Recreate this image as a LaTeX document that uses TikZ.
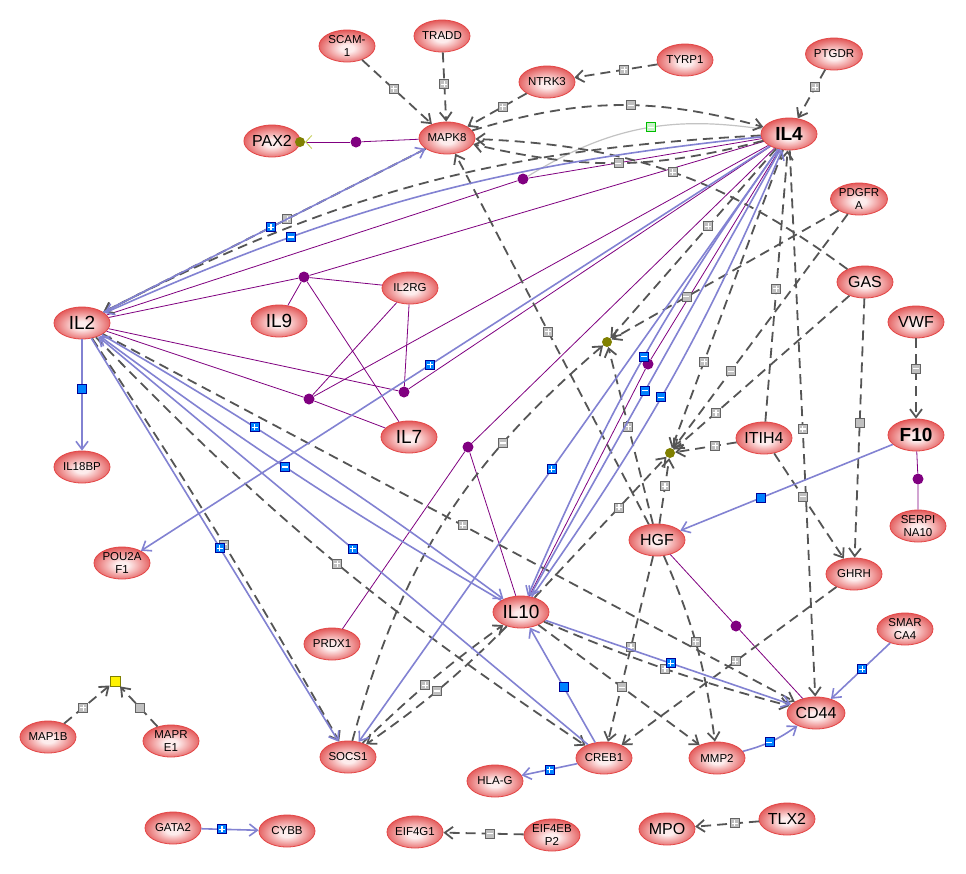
\documentclass[tikz,border=0pt]{standalone}
\usepackage{fontspec}
\setmainfont{Liberation Sans}
\usepackage{xcolor}
\definecolor{genein}{RGB}{253,236,236}
\definecolor{genemid}{RGB}{242,165,165}
\definecolor{geneout}{RGB}{226,88,88}
\definecolor{geneline}{RGB}{228,70,70}
\definecolor{regline}{RGB}{85,85,85}
\definecolor{expline}{RGB}{130,130,210}
\definecolor{bindline}{RGB}{128,0,128}
\definecolor{boxgray}{RGB}{192,192,192}
\definecolor{boxgrayline}{RGB}{100,100,100}
\definecolor{boxblue}{RGB}{0,130,255}
\definecolor{boxblueline}{RGB}{0,0,150}
\definecolor{targetdot}{RGB}{128,128,0}
\definecolor{paxarrow}{RGB}{190,200,70}
\definecolor{curvegray}{RGB}{195,195,195}
\definecolor{greenfill}{RGB}{200,240,200}
\definecolor{greenline}{RGB}{0,190,0}
\usepackage{tikz}
\usetikzlibrary{shapes.geometric}
\usetikzlibrary{arrows.meta}
\pgfdeclareradialshading{genefill}{\pgfpoint{0bp}{-4bp}}{color(0bp)=(genein); color(6bp)=(genein); color(16bp)=(genemid); color(27bp)=(geneout); color(50bp)=(geneout)}

\begin{document}
\begin{tikzpicture}[x=1pt,y=-1pt,
gene/.style={ellipse,draw=geneline,line width=0.8pt,shading=genefill,minimum width=56pt,minimum height=32pt,inner sep=0pt,align=center,font=\fontsize{11.5}{12.5}\selectfont},
big/.style={gene,font=\fontsize{16}{16}\selectfont},
huge/.style={gene,font=\fontsize{19}{19}\selectfont},
hugeb/.style={gene,font=\fontsize{19}{19}\selectfont\bfseries},
reg/.style={draw=regline,line width=1.8pt,dash pattern=on 10pt off 6pt,-{Straight Barb[length=8pt,width=12pt]}},
exp/.style={draw=expline,line width=1.6pt,-{Straight Barb[length=8pt,width=12pt]}},
bind/.style={draw=bindline,line width=0.8pt},
bdot/.style={circle,fill=bindline,inner sep=0pt,minimum size=11pt},
tdot/.style={circle,fill=targetdot,inner sep=0pt,minimum size=10pt},
ybox/.style={rectangle,fill=yellow,draw=targetdot,line width=0.8pt,minimum size=10pt,inner sep=0pt},
box/.style={rectangle,solid,line width=0.9pt,minimum size=9pt,inner sep=0pt},
plus/.style={path picture={\draw[white,solid,line width=1.1pt,-] ([xshift=-3pt]path picture bounding box.center)--([xshift=3pt]path picture bounding box.center) ([yshift=-3pt]path picture bounding box.center)--([yshift=3pt]path picture bounding box.center);}},
minus/.style={path picture={\draw[white,solid,line width=1.1pt,-] ([xshift=-3pt]path picture bounding box.center)--([xshift=3pt]path picture bounding box.center);}},
gb/.style={box,fill=boxgray,draw=boxgrayline},
gp/.style={gb,plus},
gm/.style={gb,minus},
bb/.style={box,fill=boxblue,draw=boxblueline},
bp/.style={bb,plus},
bm/.style={bb,minus}]
\path[use as bounding box,fill=white] (0,0) rectangle (966,873);

\node[gene] (scam) at (347,46) {SCAM-\\1};
\node[gene] (tradd) at (442,36) {TRADD};
\node[gene] (ntrk3) at (547,82) {NTRK3};
\node[gene] (tyrp1) at (685,60) {TYRP1};
\node[gene] (ptgdr) at (834,54) {PTGDR};
\node[big] (pax2) at (272,141) {PAX2};
\node[gene] (mapk8) at (447,138) {MAPK8};
\node[hugeb] (il4) at (789,134) {IL4};
\node[gene] (pdgfra) at (859,199) {PDGFR\\A};
\node[big] (gas) at (865,282) {GAS};
\node[big] (vwf) at (916,322) {VWF};
\node[huge] (il2) at (82,323) {IL2};
\node[huge] (il9) at (279,321) {IL9};
\node[gene] (il2rg) at (410,288) {IL2RG};
\node[huge] (il7) at (409,437) {IL7};
\node[big] (itih4) at (764,438) {ITIH4};
\node[hugeb] (f10) at (916,435) {F10};
\node[gene] (il18bp) at (82,467) {IL18BP};
\node[gene] (serpina10) at (918,526) {SERPI\\NA10};
\node[big] (hgf) at (657,540) {HGF};
\node[gene] (pou2af1) at (122,563) {POU2A\\F1};
\node[gene] (ghrh) at (854,574) {GHRH};
\node[huge] (il10) at (521,612) {IL10};
\node[gene] (prdx1) at (332,644) {PRDX1};
\node[gene] (smarca4) at (905,629) {SMAR\\CA4};
\node[big] (cd44) at (816,713) {CD44};
\node[gene] (map1b) at (48,737) {MAP1B};
\node[gene] (mapre1) at (171,741) {MAPR\\E1};
\node[gene] (socs1) at (348,757) {SOCS1};
\node[gene] (creb1) at (604,758) {CREB1};
\node[gene] (mmp2) at (717,758) {MMP2};
\node[gene] (hlag) at (495,781) {HLA-G};
\node[gene] (gata2) at (173,828) {GATA2};
\node[gene] (cybb) at (287,831) {CYBB};
\node[gene] (eif4g1) at (415,832) {EIF4G1};
\node[gene] (eif4ebp2) at (552,835) {EIF4EB\\P2};
\node[big] (mpo) at (667,829) {MPO};
\node[big] (tlx2) at (787,819) {TLX2};

\node[tdot] (t0) at (300,142) {};
\node[tdot] (t1) at (607,342) {};
\node[tdot] (t2) at (670,453) {};
\node[ybox] (t3) at (115,681) {};
\node[bdot] (j1) at (356,142) {};
\node[bdot] (j2) at (523,179) {};
\node[bdot] (j3) at (304,277) {};
\node[bdot] (j4) at (309,399) {};
\node[bdot] (j5) at (404,392) {};
\node[bdot] (j6) at (468,447) {};
\node[bdot] (j7) at (648,364) {};
\node[bdot] (j8) at (918,479) {};
\node[bdot] (j9) at (736,626) {};

\draw[bind] (j1) -- (mapk8);
\draw[bind,-{Straight Barb[color=paxarrow,length=6pt,width=13pt]}] (j1) -- (t0);
\draw[bind] (il2) -- (j2) -- (il4);
\draw[curvegray,line width=1.2pt] (j2) to[bend left=20] node[pos=.55,box,fill=greenfill,draw=greenline,minus]{} (il4);
\draw[bind] (j3) -- (il2) (j3) -- (il9) (j3) -- (il2rg) (j3) -- (il7) (j3) -- (il4);
\draw[bind] (j4) -- (il2) (j4) -- (il2rg) (j4) -- (il7) (j4) -- (il4);
\draw[bind] (j5) -- (il2) (j5) -- (il2rg) (j5) -- (il4);
\draw[bind] (j6) -- (il4) (j6) -- (il10) (j6) -- (prdx1);
\draw[bind] (j7) -- (il4) (j7) -- (il10);
\draw[bind] (j8) -- (f10) (j8) -- (serpina10);
\draw[bind] (j9) -- (hgf) (j9) -- (cd44);

\draw[reg] (scam) -- node[gp,pos=.45]{} (mapk8);
\draw[reg] (tradd) -- node[gp,pos=.46]{} (mapk8);
\draw[reg] (ntrk3) -- node[gp,pos=.4]{} (mapk8);
\draw[reg] (tyrp1) -- node[gp,pos=.4]{} (ntrk3);
\draw[reg] (ptgdr) -- node[gp,pos=.36]{} (il4);
\draw[reg] (mapk8) to[bend left=16] node[gm,pos=.55]{} (il4);
\draw[reg] (il4) to[bend left=14] node[gm,pos=.5]{} (mapk8);
\draw[reg] (gas) to[bend right=17] node[gp,pos=.5]{} (mapk8);
\draw[reg] (hgf) -- node[gp,pos=.52]{} (mapk8);
\draw[reg] (mapk8) -- node[gp,pos=.43]{} (il2);
\draw[reg] (il4) to[bend right=12] (il2);
\draw[reg] (il4) -- node[gp,pos=.41]{} (t1);
\draw[reg] (pdgfra) -- node[gm,pos=.67]{} (t1);
\draw[reg] (hgf) -- node[gp,pos=.55]{} (t1);
\draw[reg] (socs1) to[bend left=17] node[gm,pos=.72]{} (t1);
\draw[reg] (il4) -- node[gp,pos=.71]{} (t2);
\draw[reg] (pdgfra) -- node[gm,pos=.67]{} (t2);
\draw[reg] (gas) -- node[gp,pos=.76]{} (t2);
\draw[reg] (itih4) -- node[gp,pos=.35]{} (t2);
\draw[reg] (hgf) -- node[gp,pos=.57]{} (t2);
\draw[reg] (il10) -- node[gp,pos=.64]{} (t2);
\draw[reg] (itih4) -- node[gp,pos=.49]{} (il4);
\draw[reg] (il4) -- node[gp,pos=.51]{} (cd44);
\draw[reg] (gas) -- node[gb,pos=.48]{} (ghrh);
\draw[reg] (itih4) -- node[gm,pos=.41]{} (ghrh);
\draw[reg] (vwf) -- node[gm,pos=.38]{} (f10);
\draw[reg] (ghrh) -- node[gp,pos=.47]{} (creb1);
\draw[reg] (hgf) -- node[gp,pos=.49]{} (creb1);
\draw[reg] (hgf) to[bend left=8] node[gp,pos=.47]{} (mmp2);
\draw[reg] (il10) -- node[gm,pos=.52]{} (mmp2);
\draw[reg] (il10) to[bend right=4] node[gp,pos=.5]{} (cd44);
\draw[reg] (il2) -- node[gp,pos=.52]{} (cd44);
\draw[reg] (il2) to[bend right=6] node[gp,pos=.52]{} (creb1);
\draw[reg] (il2) to[bend left=2] node[gm,pos=.52]{} (socs1);
\draw[reg] (socs1) to[bend left=4] node[gp,pos=.46]{} (il10);
\draw[reg] (il10) to[bend left=5] node[gm,pos=.52]{} (socs1);
\draw[reg] (map1b) -- node[gp,pos=.42]{} (t3);
\draw[reg] (mapre1) -- node[gb,pos=.47]{} (t3);
\draw[reg] (eif4ebp2) -- node[gm,pos=.42]{} (eif4g1);
\draw[reg] (tlx2) -- node[gp,pos=.38]{} (mpo);

\draw[exp] (il2) -- node[bp,pos=.52]{} (mapk8);
\draw[exp] (il4) to[bend right=9] node[bm,pos=.72]{} (il2);
\draw[exp] (il2) -- node[bb,pos=.45]{} (il18bp);
\draw[exp] (il4) -- node[bp,pos=.54]{} (pou2af1);
\draw[exp] (il2) -- node[bp,pos=.52]{} (socs1);
\draw[exp] (il2) to[bend left=3] node[bp,pos=.36]{} (il10);
\draw[exp] (il10) to[bend left=3] node[bm,pos=.53]{} (il2);
\draw[exp] (creb1) -- node[bp,pos=.48]{} (il2);
\draw[exp] (il4) -- node[bp,pos=.54]{} (socs1);
\draw[exp] (il4) -- node[bm,pos=.54]{} (il10);
\draw[exp] (il4) to[bend right=6] node[bm,pos=.48]{} (il10);
\draw[exp] (il10) to[bend right=6] node[bm,pos=.46]{} (il4);
\draw[exp] (creb1) -- node[bb,pos=.48]{} (il10);
\draw[exp] (creb1) -- node[bp,pos=.5]{} (hlag);
\draw[exp] (il10) -- node[bp,pos=.51]{} (cd44);
\draw[exp] (mmp2) to[bend right=10] node[bm,pos=.46]{} (cd44);
\draw[exp] (smarca4) -- node[bp,pos=.47]{} (cd44);
\draw[exp] (f10) -- node[bb,pos=.62]{} (hgf);
\draw[exp] (gata2) -- node[bp,pos=.36]{} (cybb);
\end{tikzpicture}
\end{document}
